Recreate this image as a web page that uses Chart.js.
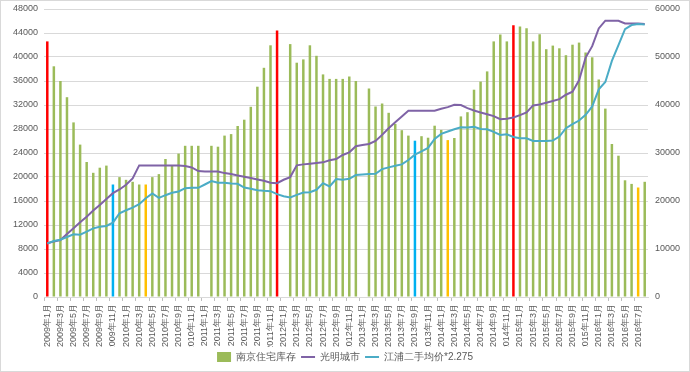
<!DOCTYPE html>
<html>
<head>
<meta charset="utf-8">
<script src="https://cdn.jsdelivr.net/npm/chart.js@4"></script>
<style>
    html, body { margin: 0; padding: 0; background: #ffffff; }
    #wrap { width: 690px; height: 372px; }
</style>
</head>
<body>
<div id="wrap"><canvas id="chartCanvas" width="690" height="372"></canvas></div>
<script>
// Months from 2009年1月 to 2016年8月
const months = [];
for (let y = 2009; y <= 2016; y++) {
    for (let m = 1; m <= 12; m++) {
        if (y === 2016 && m > 8) break;
        months.push(y + "年" + m + "月");
    }
}

// 南京住宅库存 (left axis)
const stockValues = [
    42600, 38450, 36000, 33300, 29100, 25400, 22500, 20700, 21550, 21900, 18750, 19980,
    19530, 19200, 18750, 18750, 19980, 20480, 23000, 21900, 23900, 25200, 25200, 25200,
    null, 25200, 25050, 26900, 27150, 28500, 29550, 31700, 35050, 38200, 41950, 44400,
    null, 42150, 39050, 39600, 41950, 40200, 37100, 36350, 36350, 36350, 36750, 36000,
    null, 34750, 31750, 32250, 30700, 28850, 27800, 26900, 26050, 26800, 26550, 28550,
    27850, 26150, 26500, 30100, 30800, 34550, 35900, 37600, 42600, 43750, 42600, 45300,
    45100, 44800, 42600, 43800, 41300, 41900, 41450, 40300, 42050, 42400, 40750, 39950,
    36250, 31400, 25500, 23550, 19450, 18850, 18250, 19200
];

// 光明城市 (right axis)
const guangmingValues = [
    11160, 11580, 11860, 13120, 14300, 15560, 16740, 18000, 19190, 20440, 21630, 22400,
    23370, 24700, 27420, 27420, 27420, 27420, 27420, 27420, 27420, 27280, 27000, 26230,
    26160, 26160, 26160, 25810, 25610, 25330, 25050, 24770, 24490, 24210, 23790, 23720,
    24420, 24980, 27420, 27630, 27770, 27910, 28050, 28470, 28750, 29580, 30140, 31400,
    31680, 31880, 32510, 33770, 35160, 36420, 37610, 38790, 38790, 38790, 38790, 38790,
    39210, 39560, 40050, 39980, 39350, 38860, 38440, 38090, 37680, 37050, 37120, 37400,
    37880, 38440, 39910, 40120, 40470, 40820, 41230, 42140, 42770, 45140, 49890, 52260,
    55960, 57560, 57560, 57560, 57000, 57000, 57000, 56860
];

// 江浦二手均价*2.275 (right axis)
const jiangpuValues = [
    11160, 11650, 11930, 12490, 13050, 12980, 13610, 14300, 14650, 14790, 15490, 17440,
    18070, 18630, 19330, 20580, 21560, 20650, 21210, 21700, 21980, 22680, 22750, 22750,
    23440, 24140, 23790, 23790, 23650, 23580, 22810, 22540, 22260, 22120, 22050, 21420,
    21000, 20720, 21280, 21770, 21840, 22330, 23720, 23020, 24560, 24420, 24630, 25400,
    25540, 25610, 25680, 26650, 27000, 27350, 27630, 28540, 29650, 30350, 31050, 32930,
    33980, 34470, 34950, 35370, 35300, 35440, 35020, 34950, 34400, 33770, 33910, 33350,
    33070, 33070, 32510, 32510, 32510, 32580, 33420, 35160, 36000, 36770, 37960, 39700,
    43260, 44790, 49190, 52470, 55820, 56650, 56860, 56790
];

// Months whose bars are highlighted
const redMonths = ["2009年1月", "2011年12月", "2014年12月"];
const blueMonths = ["2009年11月", "2013年9月"];
const orangeMonths = ["2010年4月", "2014年2月", "2016年7月"];

const green = "#9BBB59";
const purple = "#7F63A6";
const cyan = "#4BACC6";

// Pick a colour for each bar
const barColors = months.map(function (m) {
    if (redMonths.includes(m)) return "#FF0000";
    if (blueMonths.includes(m)) return "#00B0F0";
    if (orangeMonths.includes(m)) return "#FFC000";
    return green;
});

const fontFamily = "'Liberation Sans', Arial, sans-serif";
const textColor = "#595959";

// Thin frame round the whole chart
const framePlugin = {
    id: "frame",
    afterDraw(chart) {
        const c = chart.ctx;
        c.save();
        c.strokeStyle = "#d9d9d9";
        c.lineWidth = 1;
        c.strokeRect(0.5, 0.5, chart.width - 1, chart.height - 1);
        c.restore();
    }
};

// Fix the side axes width and drop the extra top room for the labels
function fitSide(width) {
    return function (scale) {
        scale.width = width;
        scale.paddingTop = 0;
        scale.paddingBottom = 0;
    };
}

const ctx = document.getElementById("chartCanvas").getContext("2d");
const myChart = new Chart(ctx, {
    type: "bar",
    data: {
        labels: months,
        datasets: [{
                type: "bar",
                label: "南京住宅库存",
                data: stockValues,
                backgroundColor: barColors,
                yAxisID: "y",
                order: 2,
                categoryPercentage: 1,
                barPercentage: 0.38
            },
            {
                type: "line",
                label: "光明城市",
                data: guangmingValues,
                borderColor: purple,
                backgroundColor: purple,
                borderWidth: 2,
                pointRadius: 0,
                tension: 0,
                yAxisID: "y1",
                order: 1
            },
            {
                type: "line",
                label: "江浦二手均价*2.275",
                data: jiangpuValues,
                borderColor: cyan,
                backgroundColor: cyan,
                borderWidth: 2,
                pointRadius: 0,
                tension: 0,
                yAxisID: "y1",
                order: 0
            }
        ]
    },
    options: {
        responsive: false,
        animation: false,
        layout: { padding: { top: 9, bottom: 0, left: 0, right: 0 } },
        plugins: {
            tooltip: { enabled: false },
            legend: {
                position: "bottom",
                labels: {
                    color: textColor,
                    font: { family: fontFamily, size: 10 },
                    usePointStyle: true,
                    pointStyleWidth: 14,
                    padding: 5,
                    sort: (a, b) => a.datasetIndex - b.datasetIndex,
                    generateLabels: function (chart) {
                        const items = Chart.defaults.plugins.legend.labels.generateLabels(chart);
                        items.forEach(function (item) {
                            if (item.datasetIndex === 0) {
                                item.fillStyle = green;
                                item.strokeStyle = green;
                                item.lineWidth = 0;
                                item.pointStyle = "rect";
                            } else {
                                item.pointStyle = "line";
                                item.lineWidth = 2;
                            }
                        });
                        return items;
                    }
                }
            }
        },
        scales: {
            x: {
                offset: true,
                grid: {
                    display: true,
                    drawOnChartArea: false,
                    tickLength: 4,
                    color: (c) => (c.index % 2 === 0 ? "#bfbfbf" : "rgba(0,0,0,0)")
                },
                border: { color: "#d9d9d9" },
                ticks: {
                    autoSkip: false,
                    maxRotation: 90,
                    minRotation: 90,
                    padding: 3,
                    color: textColor,
                    font: { family: fontFamily, size: 9 },
                    callback: function (value, index) {
                        return index % 2 === 0 ? months[index] : "";
                    }
                },
                afterFit: function (scale) {
                    scale.height = 50;
                    scale.paddingLeft = 0;
                    scale.paddingRight = 0;
                }
            },
            y: {
                position: "left",
                min: 0,
                max: 48000,
                grid: { color: "#d9d9d9", drawTicks: false },
                border: { display: false },
                ticks: {
                    stepSize: 4000,
                    padding: 6,
                    color: textColor,
                    font: { family: fontFamily, size: 9 },
                    callback: (v) => String(v)
                },
                afterFit: fitSide(44)
            },
            y1: {
                position: "right",
                min: 0,
                max: 60000,
                grid: { display: false, drawTicks: false },
                border: { display: false },
                ticks: {
                    stepSize: 10000,
                    padding: 7,
                    color: textColor,
                    font: { family: fontFamily, size: 9 },
                    callback: (v) => String(v)
                },
                afterFit: fitSide(42)
            }
        }
    },
    plugins: [framePlugin]
});
</script>
</body>
</html>
